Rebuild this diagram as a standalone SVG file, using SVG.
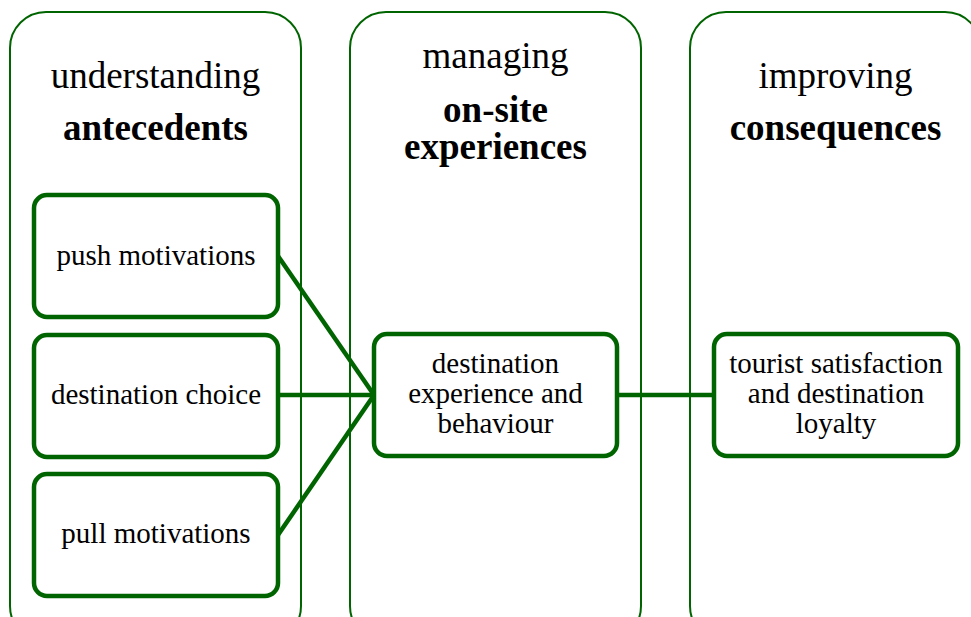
<svg xmlns="http://www.w3.org/2000/svg" width="971" height="617" viewBox="0 0 971 617">
<style>
.panel{fill:none;stroke:#006400;stroke-width:2}
.box{fill:#fff;stroke:#006400;stroke-width:4.5}
.conn{stroke:#006400;stroke-width:4.5;fill:none}
text{font-family:"Liberation Serif","Times New Roman",serif;fill:#000;text-anchor:middle}
.t{font-size:37px}
.tb{font-size:37px;font-weight:bold}
.n{font-size:29px}
</style>
<rect width="971" height="617" fill="#fff"/>
<g id="panel-antecedents">
<rect class="panel" x="10" y="12" width="291" height="630" rx="36"/>
<text class="t" x="155.5" y="88">understanding</text>
<text class="tb" x="155.5" y="140">antecedents</text>
</g>
<g id="panel-onsite">
<rect class="panel" x="350" y="12" width="291" height="630" rx="36"/>
<text class="t" x="495.5" y="68">managing</text>
<text class="tb" x="495.5" y="122">on-site</text>
<text class="tb" x="495.5" y="159">experiences</text>
</g>
<g id="panel-consequences">
<rect class="panel" x="690" y="12" width="291" height="630" rx="36"/>
<text class="t" x="835.5" y="88">improving</text>
<text class="tb" x="835.5" y="140">consequences</text>
</g>
<g id="connectors">
<line class="conn" x1="278" y1="256" x2="374" y2="395"/>
<line class="conn" x1="278" y1="395" x2="374" y2="395"/>
<line class="conn" x1="278" y1="535" x2="374" y2="395"/>
<line class="conn" x1="617" y1="395" x2="714" y2="395"/>
</g>
<g id="push-motivations">
<rect class="box" x="34" y="195" width="244" height="122" rx="13"/>
<text class="n" x="156" y="265">push motivations</text>
</g>
<g id="destination-choice">
<rect class="box" x="34" y="335" width="244" height="122" rx="13"/>
<text class="n" x="156" y="404">destination choice</text>
</g>
<g id="pull-motivations">
<rect class="box" x="34" y="474" width="244" height="122" rx="13"/>
<text class="n" x="156" y="543">pull motivations</text>
</g>
<g id="destination-experience">
<rect class="box" x="374" y="334" width="243" height="122" rx="13"/>
<text class="n" x="495.5" y="373">destination</text>
<text class="n" x="495.5" y="403">experience and</text>
<text class="n" x="495.5" y="433">behaviour</text>
</g>
<g id="tourist-satisfaction">
<rect class="box" x="714" y="334" width="244" height="122" rx="13"/>
<text class="n" x="836" y="373">tourist satisfaction</text>
<text class="n" x="836" y="403">and destination</text>
<text class="n" x="836" y="433">loyalty</text>
</g>
</svg>
